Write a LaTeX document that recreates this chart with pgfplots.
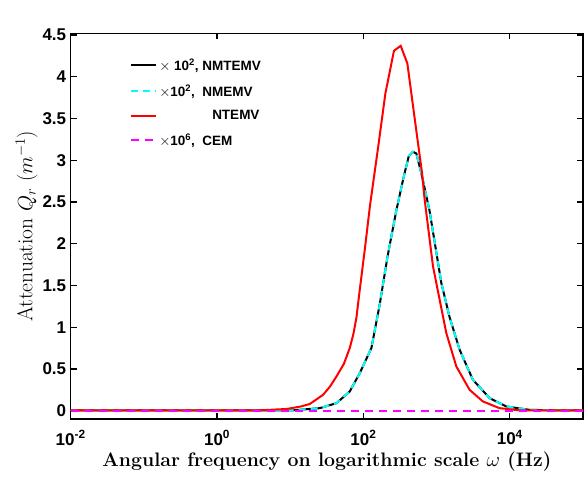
\documentclass[border=0pt]{standalone}
\usepackage{pgfplots}
\pgfplotsset{compat=1.18}
\usepackage{fontspec}
\newfontfamily\arial{Liberation Sans}
\definecolor{mycyan}{rgb}{0,1,1}
\definecolor{mymag}{rgb}{1,0,1}
\definecolor{myred}{rgb}{1,0,0}
\begin{document}
\begin{tikzpicture}
\begin{axis}[
  scale only axis,
  width=512.3pt, height=385.7pt,
  xmode=log,
  xmin=0.01, xmax=1e5,
  ymin=-0.1, ymax=4.52,
  xtick={0.01,1,100,10000},
  xticklabels={10\textsuperscript{-2},10\textsuperscript{0},10\textsuperscript{2},10\textsuperscript{4}},
  ytick={0,0.5,1,1.5,2,2.5,3,3.5,4,4.5},
  yticklabels={0,0.5,1,1.5,2,2.5,3,3.5,4,4.5},
  xminorticks=false,
  tick align=inside,
  major tick length=6pt,
  axis line style={line width=1.3pt},
  every tick/.style={black, line width=1.3pt},
  tick label style={font=\arial\bfseries\fontsize{17}{19}\selectfont},
  xticklabel style={yshift=-8pt},
  yticklabel style={xshift=-1pt},
  xlabel={\bfseries Angular frequency on logarithmic scale $\omega$ (Hz)},
  ylabel={Attenuation $Q_r$ $(m^{-1})$},
  xlabel style={font=\fontsize{19.5}{23}\selectfont, yshift=0pt},
  ylabel style={font=\fontsize{21.5}{25}\selectfont, yshift=-2pt},
  legend style={at={(rel axis cs:0.11,0.945)}, anchor=north west, draw=none, fill=none,
    font=\arial\bfseries\fontsize{13.5}{15}\selectfont, row sep=8.5pt,
    cells={anchor=west}},
  legend image code/.code={\draw[#1, line width=2pt] (0pt,0pt) -- (25pt,0pt);},
]
\addplot[black, line width=2pt] coordinates {
(0.01,0.002) (1,0.002) (10.84,0.004) (25.35,0.03) (42.85,0.09) (65.01,0.23)
(89.13,0.45) (128.5,0.75) (166.7,1.27) (213.8,1.85) (281.8,2.40) (354.8,2.80)
(416.9,3.05) (475.3,3.10) (528.4,3.08) (631.0,2.81) (801.7,2.39) (1159,1.53)
(1503,1.12) (2061,0.73) (3126,0.37) (5297,0.15) (8933,0.05) (18580,0.01)
(39810,0.004) (100000,0.002)
};
\addlegendentry{$\times$ 10\textsuperscript{2}, NMTEMV}
\addplot[mycyan, line width=2pt, dash pattern=on 7pt off 5pt] coordinates {
(0.01,0.002) (1,0.002) (10.84,0.004) (25.35,0.03) (42.85,0.09) (65.01,0.23)
(89.13,0.45) (128.5,0.75) (166.7,1.27) (213.8,1.85) (281.8,2.40) (354.8,2.80)
(416.9,3.05) (475.3,3.10) (528.4,3.08) (631.0,2.81) (801.7,2.39) (1159,1.53)
(1503,1.12) (2061,0.73) (3126,0.37) (5297,0.15) (8933,0.05) (18580,0.01)
(39810,0.004) (100000,0.002)
};
\addlegendentry{$\times$10\textsuperscript{2},\ \ NMEMV}
\addplot[myred, line width=2pt] coordinates {
(0.01,0.002) (1,0.002) (3.846,0.004) (8.913,0.02) (14.0,0.05) (18.49,0.08) (28.12,0.19)
(35.0,0.29) (42.85,0.41) (54.0,0.56) (65.01,0.75) (73.0,0.92) (80.35,1.12) (89.13,1.45) (105.0,1.95) (123.0,2.46) (158.5,3.15)
(199.5,3.80) (261.2,4.31) (322.8,4.37) (398.1,4.16) (501.2,3.50) (631.0,2.85)
(685.5,2.53) (891.3,1.73) (1099,1.33) (1355,0.93) (1858,0.53) (2818,0.25)
(4285,0.11) (7228,0.03) (13550,0.004) (100000,0.002)
};
\addlegendentry{\hspace*{53pt}NTEMV}
\addplot[mymag, line width=2pt, dash pattern=on 8pt off 6pt] coordinates {
(0.01,0) (100000,0)
};
\addlegendentry{$\times$10\textsuperscript{6},\ \ CEM}
\node[anchor=base west, font=\arial\bfseries\fontsize{17}{19}\selectfont, inner sep=0pt]
  at ([xshift=3pt,yshift=5pt]rel axis cs:0,1) {$\times$10\textsuperscript{-3}};
\end{axis}
\pgfresetboundingbox
\path[use as bounding box] (-70.7pt,-59pt) rectangle (515.3pt,419pt);
\end{tikzpicture}
\end{document}
